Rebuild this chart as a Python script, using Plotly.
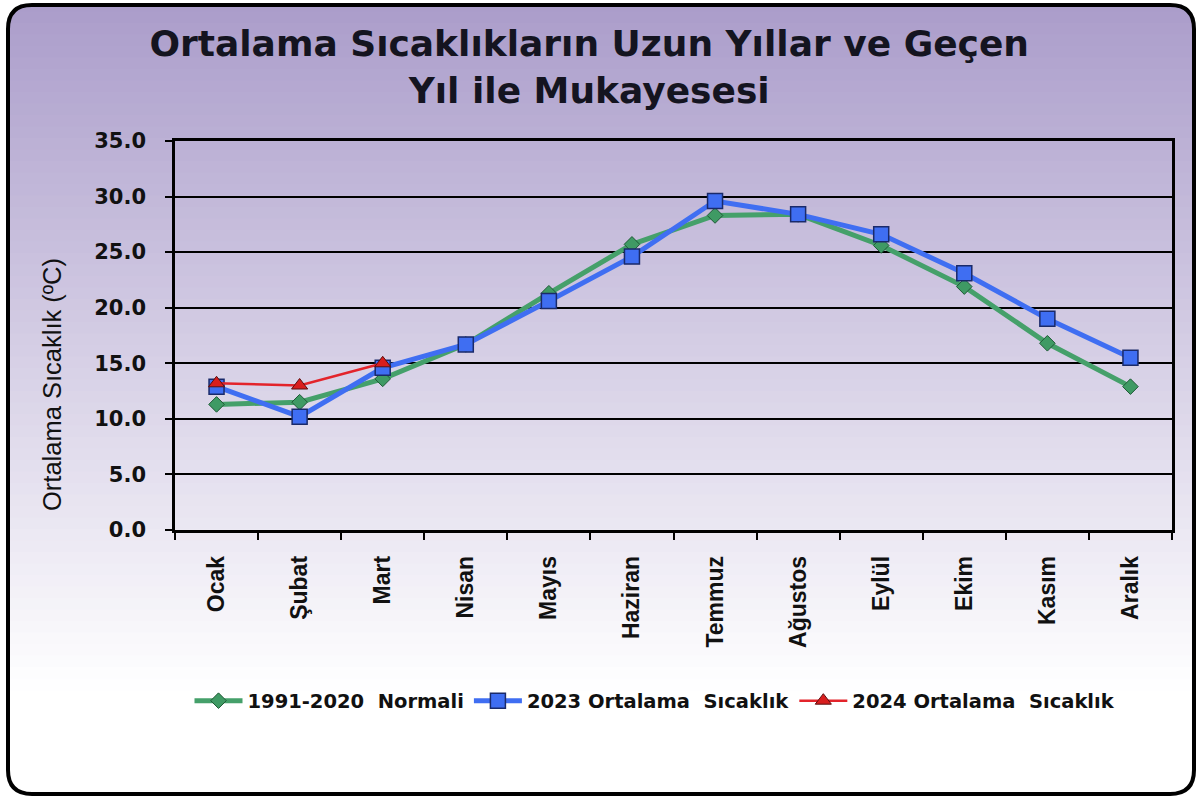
import plotly.graph_objects as go

months = ["Ocak", "Şubat", "Mart", "Nisan", "Mayıs", "Haziran",
          "Temmuz", "Ağustos", "Eylül", "Ekim", "Kasım", "Aralık"]
normal_1991_2020 = [11.3, 11.5, 13.6, 16.7, 21.3, 25.7, 28.3, 28.4, 25.6, 21.9, 16.8, 12.9]
avg_2023 = [12.9, 10.2, 14.6, 16.7, 20.6, 24.6, 29.6, 28.4, 26.6, 23.1, 19.0, 15.5]
avg_2024 = [13.2, 13.0, 15.0]
y_ticks = [0, 5, 10, 15, 20, 25, 30, 35]
y_tick_labels = ["0.0", "5.0", "10.0", "15.0", "20.0", "25.0", "30.0", "35.0"]

W, H = 1200, 798
ML, MR, MT, MB = 175, 28, 141, 268
PW = W - ML - MR
PH = H - MT - MB

def px(x):
    return (x - ML) / PW

def py(y):
    return (H - MB - y) / PH

WIDE = "DejaVu Sans, Verdana, sans-serif"
ARIAL = "Liberation Sans, Arial, sans-serif"

fig = go.Figure()

fig.add_trace(go.Scatter(
    x=months, y=normal_1991_2020, mode="lines+markers",
    name="1991-2020\u00a0\u00a0Normali",
    line=dict(color="#45a06a", width=5),
    marker=dict(symbol="diamond", size=12, color="#3f9a64",
                line=dict(color="#1f5a36", width=1)),
))
fig.add_trace(go.Scatter(
    x=months, y=avg_2023, mode="lines+markers",
    name="2023 Ortalama\u00a0\u00a0Sıcaklık",
    line=dict(color="#3f6ef2", width=5),
    marker=dict(symbol="square", size=15, color="#3f6ef2",
                line=dict(color="#1a2a6a", width=1.5)),
))
fig.add_trace(go.Scatter(
    x=months[:len(avg_2024)], y=avg_2024, mode="lines+markers",
    name="2024 Ortalama\u00a0\u00a0Sıcaklık",
    line=dict(color="#e3242b", width=2.5),
    marker=dict(symbol="triangle-up", size=14, color="#d81e1e",
                line=dict(color="#5a1010", width=1)),
))

shapes = []
# vertical gradient background
top = (170, 156, 202)
bot = (255, 255, 255)
y_end = 690
n = 60
for i in range(n):
    y0 = i * y_end / n
    y1 = (i + 1) * y_end / n + 0.5
    t = (i + 0.5) / n
    c = tuple(int(round(top[k] + (bot[k] - top[k]) * t)) for k in range(3))
    shapes.append(dict(type="rect", xref="paper", yref="paper", layer="below",
                       x0=px(0), x1=px(W), y0=py(y0), y1=py(y1),
                       fillcolor="rgb(%d,%d,%d)" % c, line=dict(width=0)))

# border with rounded corners
bx0, by0, bx1, by1, r = 8, 5, 1194, 794, 24
corners = [
    (bx0, by0, bx0 + r, by0, bx0, by0 + r),
    (bx1, by0, bx1 - r, by0, bx1, by0 + r),
    (bx0, by1, bx0 + r, by1, bx0, by1 - r),
    (bx1, by1, bx1 - r, by1, bx1, by1 - r),
]
for (cx, cy, ax, ay, bxx, byy) in corners:
    ox = 0 if cx < W / 2 else W
    oy = 0 if cy < H / 2 else H
    path = "M %f,%f L %f,%f L %f,%f Q %f,%f %f,%f L %f,%f Z" % (
        px(ox), py(oy), px(ox), py(byy), px(bxx), py(byy),
        px(cx), py(cy), px(ax), py(ay), px(ax), py(oy))
    shapes.append(dict(type="path", xref="paper", yref="paper", layer="below",
                       path=path, fillcolor="white", line=dict(width=0)))
for (x0e, x1e, y0e, y1e) in [(0, W, 0, by0), (0, W, by1, H), (0, bx0, 0, H), (bx1, W, 0, H)]:
    shapes.append(dict(type="rect", xref="paper", yref="paper", layer="below",
                       x0=px(x0e), x1=px(x1e), y0=py(y0e), y1=py(y1e),
                       fillcolor="white", line=dict(width=0)))

border = ("M %f,%f L %f,%f Q %f,%f %f,%f L %f,%f Q %f,%f %f,%f "
          "L %f,%f Q %f,%f %f,%f L %f,%f Q %f,%f %f,%f Z") % (
    px(bx0 + r), py(by0), px(bx1 - r), py(by0), px(bx1), py(by0), px(bx1), py(by0 + r),
    px(bx1), py(by1 - r), px(bx1), py(by1), px(bx1 - r), py(by1),
    px(bx0 + r), py(by1), px(bx0), py(by1), px(bx0), py(by1 - r),
    px(bx0), py(by0 + r), px(bx0), py(by0), px(bx0 + r), py(by0))
shapes.append(dict(type="path", xref="paper", yref="paper", layer="above",
                   path=border, line=dict(color="black", width=4)))

fig.update_layout(
    width=W, height=H,
    margin=dict(l=ML, r=MR, t=MT, b=MB, autoexpand=False),
    paper_bgcolor="white",
    plot_bgcolor="rgba(0,0,0,0)",
    shapes=shapes,
    title=dict(
        text="<b>Ortalama Sıcaklıkların Uzun Yıllar ve Geçen<br>Yıl ile Mukayesesi</b>",
        x=0.491, xanchor="center", y=1 - 56 / H, yanchor="middle",
        font=dict(family=WIDE, size=36, color="#141420"),
    ),
    font=dict(family=ARIAL, color="#111111"),
    showlegend=True,
    legend=dict(
        orientation="h", x=px(655), xanchor="center", y=py(701), yanchor="middle",
        font=dict(size=19.5, color="#111111", family=WIDE, weight="bold"),
        bgcolor="rgba(0,0,0,0)", itemwidth=48, tracegroupgap=0,
    ),
    xaxis=dict(
        type="category", categoryorder="array", categoryarray=months,
        range=[-0.5, 11.5],
        tickangle=-90, tickson="boundaries",
        ticks="outside", ticklen=7, tickwidth=2, tickcolor="black",
        ticklabelstandoff=14,
        showline=True, linecolor="black", linewidth=2.5, mirror=True,
        showgrid=False,
        tickfont=dict(size=23, color="#111111", family=ARIAL, weight="bold"),
    ),
    yaxis=dict(
        range=[0, 35], tickvals=y_ticks, ticktext=y_tick_labels,
        ticks="outside", ticklen=7, tickwidth=2, tickcolor="black",
        ticklabelstandoff=15,
        showline=True, linecolor="black", linewidth=2.5, mirror=True,
        showgrid=True, gridcolor="black", gridwidth=2,
        zeroline=False,
        tickfont=dict(size=21, color="#111111", family=WIDE, weight="bold"),
    ),
    annotations=[dict(
        text="Ortalama Sıcaklık (ºC)", textangle=-90,
        xref="paper", yref="paper", x=px(52), y=py(385),
        xanchor="center", yanchor="middle", showarrow=False,
        font=dict(size=25.5, family=ARIAL, color="#111111"),
    )],
)

fig.write_html("out.html", config={"displayModeBar": False},
               post_script="document.body.style.margin='0';")
